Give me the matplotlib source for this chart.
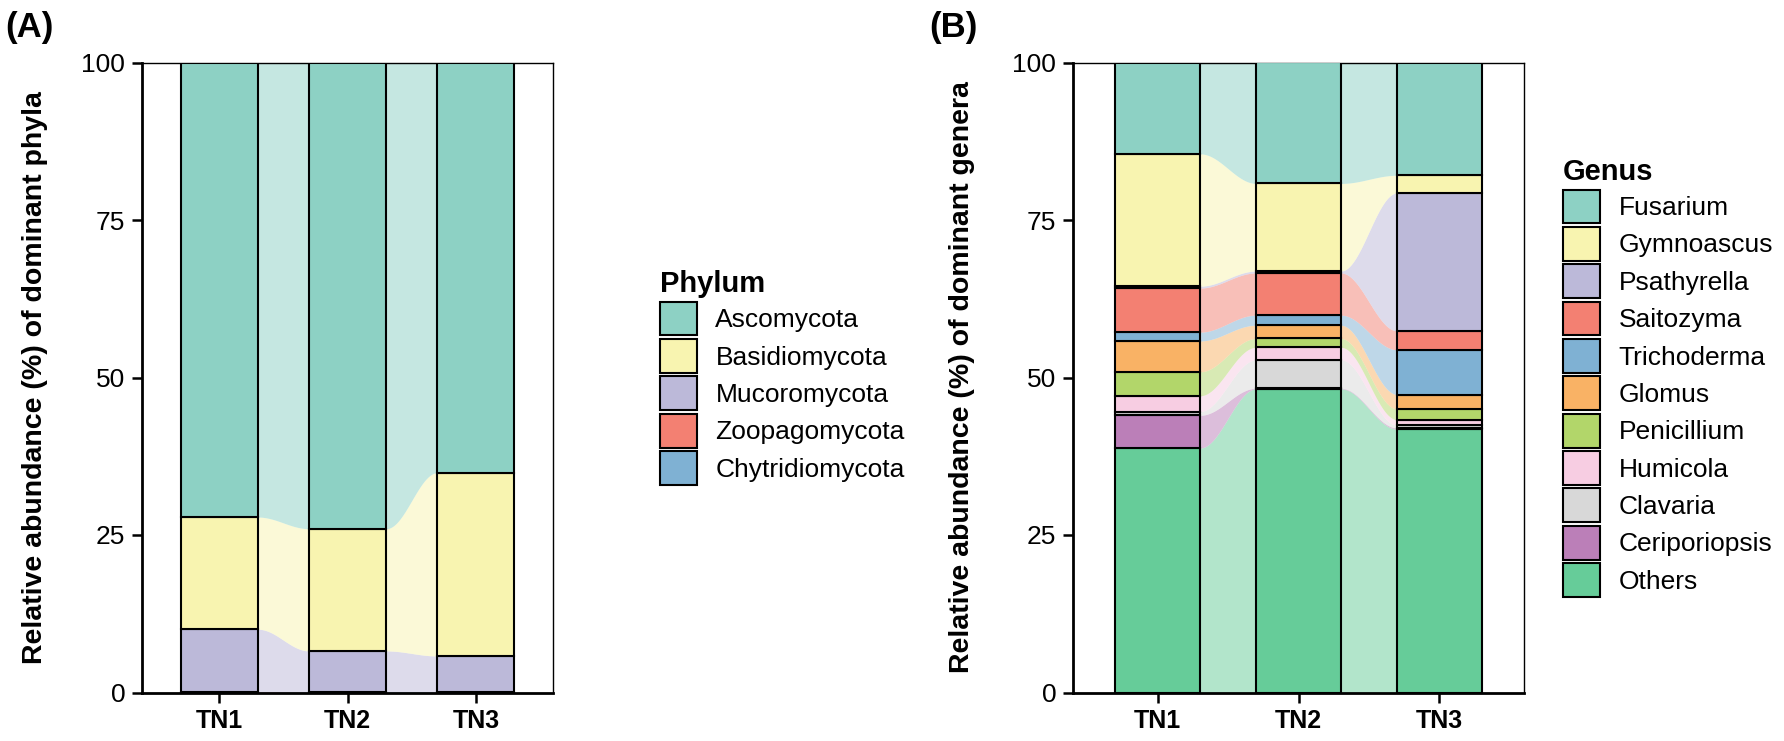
import matplotlib
matplotlib.use('Agg')
import matplotlib.pyplot as plt
import numpy as np
from matplotlib.patches import Patch

plt.rcParams['font.family'] = ['Liberation Sans', 'DejaVu Sans']

samples = ['TN1', 'TN2', 'TN3']

# Panel A: phyla (legend order, top of stack first)
phyla = ['Ascomycota', 'Basidiomycota', 'Mucoromycota', 'Zoopagomycota', 'Chytridiomycota']
ascomycota = [72.15, 74.0, 65.1]
basidiomycota = [17.8, 19.4, 29.1]
mucoromycota = [9.9, 6.5, 5.7]
zoopagomycota = [0.1, 0.05, 0.05]
chytridiomycota = [0.05, 0.05, 0.05]
phylum_values = [ascomycota, basidiomycota, mucoromycota, zoopagomycota, chytridiomycota]
phylum_colors = ['#8DD1C4', '#F8F4B0', '#BCB9D9', '#F38072', '#7FB1D3']

# Panel B: genera (legend order, top of stack first)
genera = ['Fusarium', 'Gymnoascus', 'Psathyrella', 'Saitozyma', 'Trichoderma', 'Glomus',
          'Penicillium', 'Humicola', 'Clavaria', 'Ceriporiopsis', 'Others']
fusarium = [14.5, 19.2, 17.9]
gymnoascus = [21.0, 13.9, 2.8]
psathyrella = [0.3, 0.3, 21.9]
saitozyma = [7.0, 6.7, 3.0]
trichoderma = [1.4, 1.6, 7.1]
glomus = [4.9, 2.1, 2.3]
penicillium = [3.8, 1.4, 1.7]
humicola = [2.5, 2.0, 0.9]
clavaria = [0.6, 4.5, 0.4]
ceriporiopsis = [5.2, 0.1, 0.2]
others = [38.8, 48.2, 41.8]
genus_values = [fusarium, gymnoascus, psathyrella, saitozyma, trichoderma, glomus,
                penicillium, humicola, clavaria, ceriporiopsis, others]
genus_colors = ['#8DD1C4', '#F8F4B0', '#BCB9D9', '#F38072', '#7FB1D3', '#F9B265',
                '#B2D66A', '#F7CDE2', '#D8D8D8', '#BB7FB8', '#66CC99']

yticks = [0, 25, 50, 75, 100]

W, H = 1784, 741
fig = plt.figure(figsize=(W / 100, H / 100), dpi=100)


def draw_panel(ax, names, values, colors):
    x = np.arange(1, len(samples) + 1)
    vals = np.array(values, dtype=float)
    order = list(range(len(names)))[::-1]
    stacked = vals[order]
    tops = np.cumsum(stacked, axis=0)
    bottoms = tops - stacked
    w = 0.6
    t = np.linspace(0, 1, 120)
    s = (1 - np.cos(np.pi * t)) / 2
    for k, idx in enumerate(order):
        for j in range(len(samples) - 1):
            x0 = x[j] + w / 2
            x1 = x[j + 1] - w / 2
            xs = x0 + (x1 - x0) * t
            lo = bottoms[k, j] + (bottoms[k, j + 1] - bottoms[k, j]) * s
            hi = tops[k, j] + (tops[k, j + 1] - tops[k, j]) * s
            ax.fill_between(xs, lo, hi, color=colors[idx], alpha=0.5, lw=0)
    for k, idx in enumerate(order):
        ax.bar(x, stacked[k], bottom=bottoms[k], width=w, color=colors[idx],
               edgecolor='black', linewidth=1.5, zorder=3)
    ax.set_xlim(0.4, len(samples) + 0.6)
    ax.set_ylim(0, 100)
    ax.set_xticks(x)
    ax.set_xticklabels(samples, fontsize=18, fontweight='bold')
    ax.set_yticks(yticks)
    ax.set_yticklabels([str(v) for v in yticks], fontsize=19)
    ax.tick_params(axis='both', length=7, width=1.8, color='black', pad=5)
    for side in ['left', 'bottom']:
        ax.spines[side].set_linewidth(2.0)
    for side in ['top', 'right']:
        ax.spines[side].set_linewidth(1.0)


axA = fig.add_axes([142 / W, 48.5 / H, 411 / W, 630 / H])
draw_panel(axA, phyla, phylum_values, phylum_colors)
axA.set_ylabel('Relative abundance (%) of dominant phyla', fontsize=20.5,
               fontweight='bold', labelpad=24)

axB = fig.add_axes([1073 / W, 48.5 / H, 451 / W, 630 / H])
draw_panel(axB, genera, genus_values, genus_colors)
axB.set_ylabel('Relative abundance (%) of dominant genera', fontsize=20.5,
               fontweight='bold', labelpad=27)


def add_legend(names, colors, title, xpx):
    handles = [Patch(facecolor=c, edgecolor='black', linewidth=1.5) for c in colors]
    leg = fig.legend(handles, names, title=title, loc='center left',
                     bbox_to_anchor=(xpx / W, 1 - 377.5 / H), frameon=False,
                     fontsize=19, title_fontproperties={'weight': 'bold', 'size': 21},
                     handlelength=1.4, handleheight=1.6, labelspacing=0.13,
                     handletextpad=0.7, borderpad=0, borderaxespad=0, alignment='left')
    return leg


add_legend(phyla, phylum_colors, 'Phylum', 660)
add_legend(genera, genus_colors, 'Genus', 1563)

fig.text(5 / W, 1 - 28 / H, '(A)', fontsize=25, fontweight='bold', va='center', ha='left')
fig.text(929 / W, 1 - 28 / H, '(B)', fontsize=25, fontweight='bold', va='center', ha='left')

fig.savefig('out.png', dpi=100)
